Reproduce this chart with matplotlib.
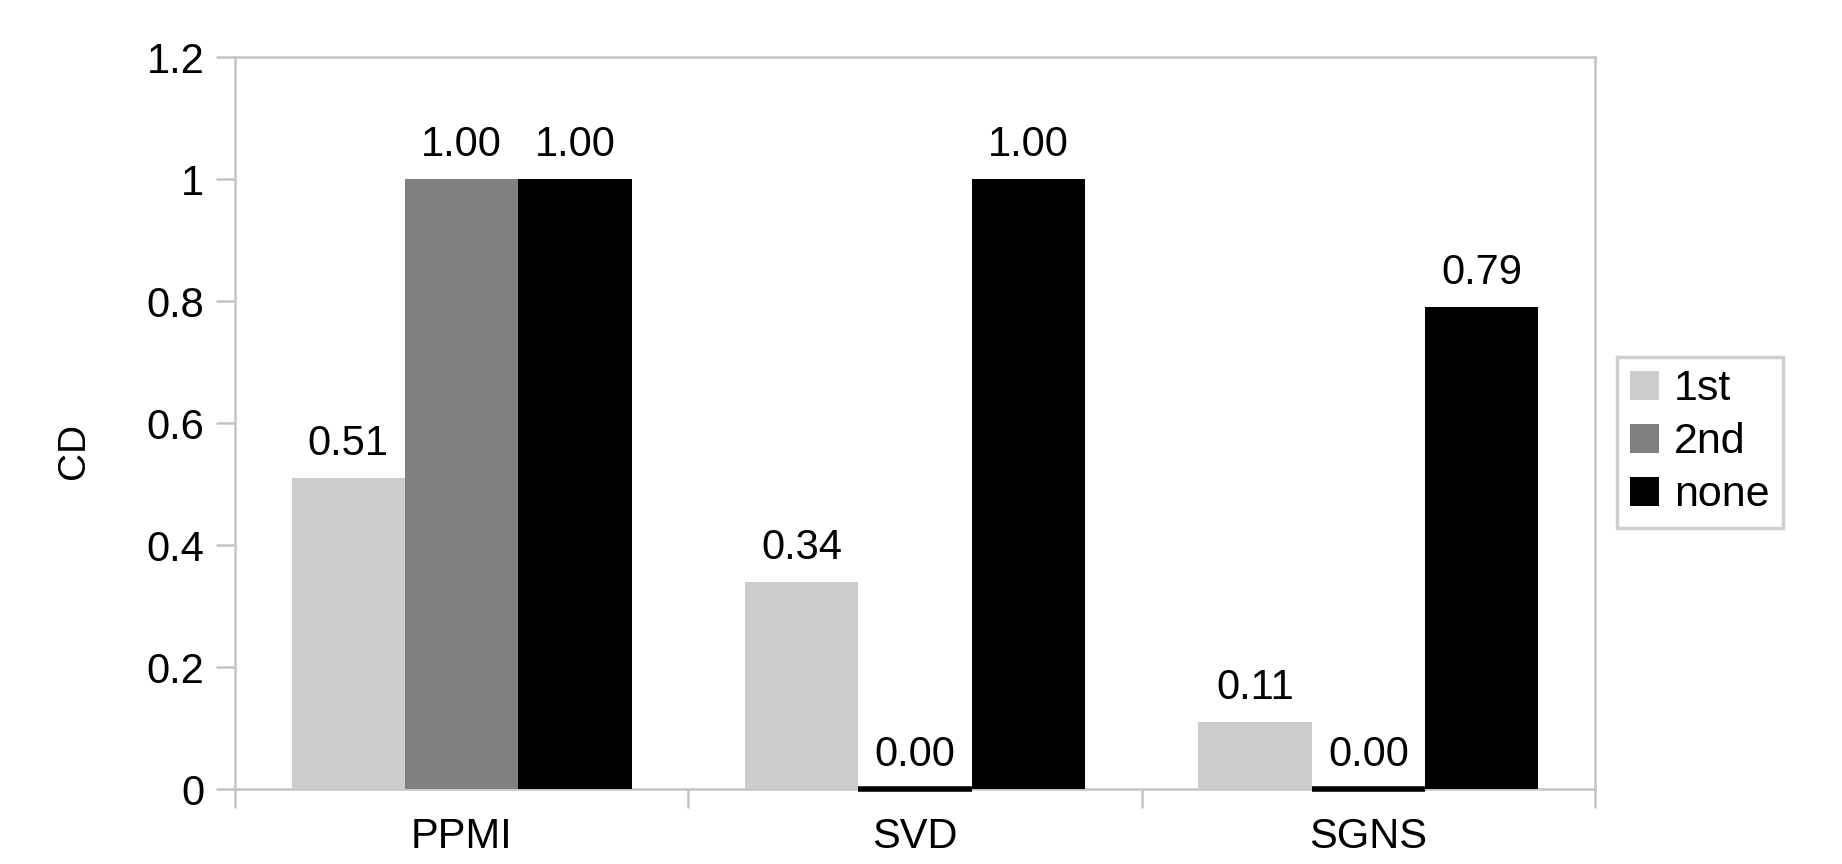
import numpy as np
import matplotlib.pyplot as plt

plt.rcParams['font.family'] = ['Liberation Sans', 'DejaVu Sans']

# Data
models = ["PPMI", "SVD", "SGNS"]
first = [0.51, 0.34, 0.11]
second = [1.00, 0.00, 0.00]
none = [1.00, 1.00, 0.79]

series = [("1st", first, "#cccccc"), ("2nd", second, "#808080"), ("none", none, "#000000")]

fig = plt.figure(figsize=(18.42, 8.64), dpi=100)
ax = fig.add_axes([0.1276, 0.0868, 0.7383, 0.8472])

x = np.arange(len(models))
width = 0.25
for i, (name, vals, color) in enumerate(series):
    # zero-height bars show up as a thick dark line on the axis in the original
    lws = [4 if v == 0 else 0 for v in vals]
    bars = ax.bar(x + (i - 1) * width, vals, width, color=color, label=name,
                  edgecolor="black", linewidth=lws, clip_on=False, zorder=3)
    ax.bar_label(bars, fmt="%.2f", padding=10, fontsize=30)

ax.set_xlim(-0.5, 2.5)
ax.set_ylim(0, 1.2)
ax.set_yticks([0, 0.2, 0.4, 0.6, 0.8, 1.0, 1.2])
ax.set_yticklabels(["0", "0.2", "0.4", "0.6", "0.8", "1", "1.2"])
ax.set_xticks(x)
ax.set_xticklabels(models)
ax.set_xticks([-0.5, 0.5, 1.5, 2.5], minor=True)

frame = "#c4c4c4"
for s in ax.spines.values():
    s.set_color(frame)
    s.set_linewidth(1.8)
ax.tick_params(axis="x", which="major", length=0, pad=20, labelsize=30)
ax.tick_params(axis="x", which="minor", length=14, width=1.8, color=frame)
ax.tick_params(axis="y", length=14, width=1.8, color=frame, pad=8, labelsize=30)

ax.set_ylabel("CD", fontsize=28)
ax.yaxis.set_label_coords(-0.105, 0.462)

leg = ax.legend(loc="center left", bbox_to_anchor=(0.878, 0.488),
                bbox_transform=fig.transFigure, fontsize=31, fancybox=False,
                handlelength=0.67, handleheight=0.67, handletextpad=0.35,
                borderpad=0.3, labelspacing=0.3, borderaxespad=0)
leg.get_frame().set_edgecolor(frame)
leg.get_frame().set_linewidth(2.5)

fig.savefig("out.png", dpi=100)
